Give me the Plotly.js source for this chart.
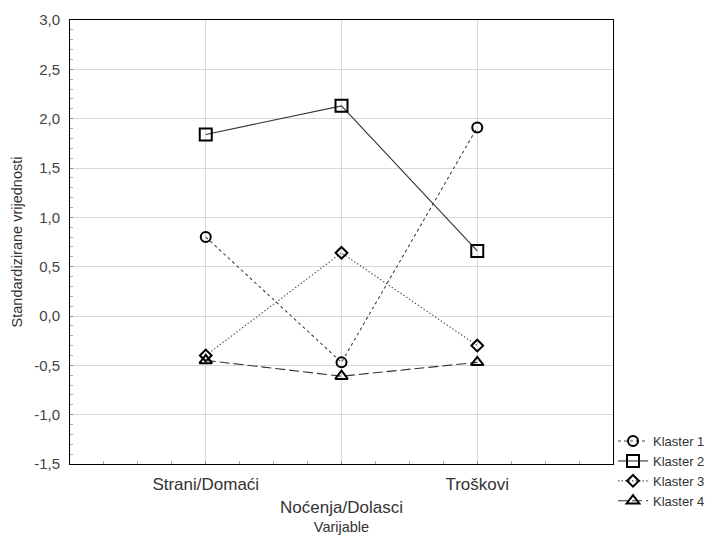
<!DOCTYPE html>
<html>
<head>
<meta charset="utf-8">
<script src="https://cdn.plot.ly/plotly-3.0.1.min.js"></script>
<style>html,body{margin:0;padding:0;background:#fff;}#chart{width:709px;height:536px;}</style>
</head>
<body>
<div id="chart"></div>
<script>
const categories = ["Strani/Domaći", "Noćenja/Dolasci", "Troškovi"];
const seriesNames = ["Klaster 1", "Klaster 2", "Klaster 3", "Klaster 4"];
const klaster1 = [0.80, -0.47, 1.91];
const klaster2 = [1.84, 2.13, 0.66];
const klaster3 = [-0.40, 0.64, -0.30];
const klaster4 = [-0.45, -0.61, -0.47];
const yTickVals = [-1.5, -1.0, -0.5, 0.0, 0.5, 1.0, 1.5, 2.0, 2.5, 3.0];
const yTickText = ["-1,5", "-1,0", "-0,5", "0,0", "0,5", "1,0", "1,5", "2,0", "2,5", "3,0"];

const xIdx = categories.map((c, i) => i);
const tickText = categories.map((c, i) => (i % 2 === 1 ? "<br>" + c : c));

const styles = [
  {dash: "3px,3px", symbol: "circle-open", size: 10, lc: "#444"},
  {dash: "solid", symbol: "square-open", size: 12, lc: "#333"},
  {dash: "1.5px,2px", symbol: "diamond-open", size: 9, lc: "#555"},
  {dash: "10px,4px", symbol: "triangle-up-open", size: 11, lc: "#333"}
];
const data = [klaster1, klaster2, klaster3, klaster4].map((vals, k) => ({
  x: xIdx,
  y: vals,
  name: seriesNames[k],
  type: "scatter",
  mode: "lines+markers",
  line: {color: styles[k].lc, width: 1.1, dash: styles[k].dash},
  marker: {symbol: styles[k].symbol, size: styles[k].size, color: "#000",
           line: {color: "#000", width: 2}}
}));

const font = "Arial, 'Liberation Sans', sans-serif";
const layout = {
  width: 709, height: 536,
  margin: {l: 70, r: 96, t: 20, b: 72, autoexpand: false},
  paper_bgcolor: "#fff", plot_bgcolor: "#fff",
  font: {family: font, color: "#333", size: 12},
  showlegend: true,
  legend: {
    x: 1.0, xanchor: "left", y: -0.016, yanchor: "middle",
    font: {family: font, size: 13, color: "#333"},
    tracegroupgap: 0, itemwidth: 30, bgcolor: "rgba(0,0,0,0)"
  },
  xaxis: {
    range: [-1, 3],
    tickvals: xIdx, ticktext: tickText,
    tickfont: {family: font, size: 17, color: "#333"},
    ticklabelstandoff: 5,
    showgrid: true, gridcolor: "#d8d8d8", gridwidth: 1,
    showline: true, linecolor: "#000", linewidth: 1, mirror: true,
    ticks: "inside", ticklen: 3, tickcolor: "#888",
    minor: {dtick: 0.25, ticks: "inside", ticklen: 3, tickcolor: "#aaa", showgrid: false},
    zeroline: false,
    title: {text: "Varijable", font: {family: font, size: 14.5, color: "#333"}, standoff: 6}
  },
  yaxis: {
    range: [-1.5, 3.0],
    tickvals: yTickVals, ticktext: yTickText,
    tickfont: {family: font, size: 15, color: "#444"},
    ticklabelstandoff: 6,
    showgrid: true, gridcolor: "#d8d8d8", gridwidth: 1,
    showline: true, linecolor: "#000", linewidth: 1, mirror: true,
    ticks: "inside", ticklen: 3, tickcolor: "#888",
    minor: {dtick: 0.1, ticks: "inside", ticklen: 3, tickcolor: "#aaa", showgrid: false},
    zeroline: false,
    title: {text: "Standardizirane vrijednosti", font: {family: font, size: 14.5, color: "#333"}, standoff: 8}
  }
};
Plotly.newPlot("chart", data, layout, {displayModeBar: false, staticPlot: true});
</script>
</body>
</html>
